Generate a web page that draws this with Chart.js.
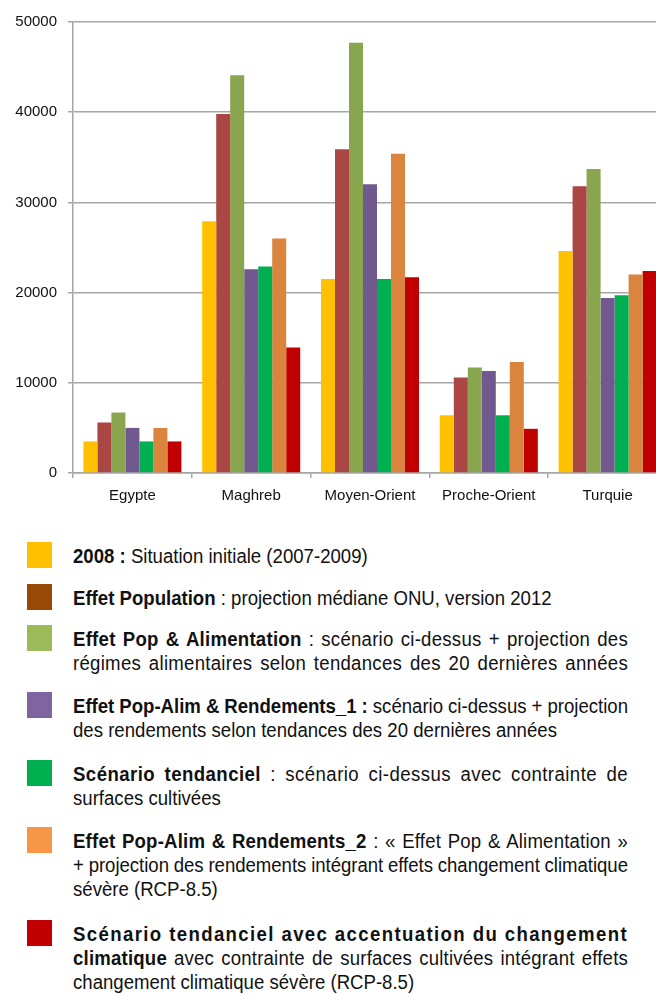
<!DOCTYPE html>
<html>
<head>
<meta charset="utf-8">
<script src="https://cdn.jsdelivr.net/npm/chart.js@4.4.0/dist/chart.umd.min.js"></script>
<style>
  html, body { margin: 0; padding: 0; background: #fff; overflow: hidden; }
  body { width: 656px; height: 994px; position: relative; font-family: "Liberation Sans", Arial, sans-serif; color: #111; }
  #chartBox { position: absolute; left: 0; top: 0; width: 667px; height: 520px; }
  .entry { position: absolute; left: 0; }
  .swatch { position: absolute; left: 27px; top: 0; width: 25px; height: 26px; }
  .txt { position: absolute; left: 73px; top: 2px; font-size: 20px; line-height: 24px; transform: scaleX(0.93); transform-origin: 0 0; }
  .line { display: block; height: 24px; white-space: nowrap; }
  .line span { display: inline-block; white-space: nowrap; }
</style>
</head>
<body>
<div id="chartBox"><canvas id="chart" width="667" height="520"></canvas></div>
<div id="legend"></div>
<script>
// categories and series
const regions = ['Egypte', 'Maghreb', 'Moyen-Orient', 'Proche-Orient', 'Turquie'];

const s2008        = [3500, 27900, 21500, 6400, 24600];
const sPopulation  = [5600, 39800, 35900, 10600, 31800];
const sPopAlim     = [6700, 44100, 47700, 11700, 33700];
const sRendements1 = [5000, 22600, 32000, 11300, 19400];
const sTendanciel  = [3500, 22900, 21500, 6400, 19700];
const sRendements2 = [5000, 26000, 35400, 12300, 22000];
const sClimat      = [3500, 13900, 21700, 4900, 22400];

const yTicks = [0, 10000, 20000, 30000, 40000, 50000];

const seriesNames = [
  '2008',
  'Effet Population',
  'Effet Pop & Alimentation',
  'Effet Pop-Alim & Rendements_1',
  'Scénario tendanciel',
  'Effet Pop-Alim & Rendements_2',
  'Scénario tendanciel avec accentuation du changement climatique'
];

// legend text, one string per printed line
const legendLines = [
  ['<b>2008 :</b> Situation initiale (2007-2009)'],
  ['<b>Effet Population</b> : projection médiane ONU, version 2012'],
  ['<b>Effet Pop &amp; Alimentation</b> : scénario ci-dessus + projection des',
   'régimes alimentaires selon tendances des 20 dernières années'],
  ['<b>Effet Pop-Alim &amp; Rendements_1 :</b> scénario ci-dessus + projection',
   'des rendements selon tendances des 20 dernières années'],
  ['<b>Scénario tendanciel</b> : scénario ci-dessus avec contrainte de',
   'surfaces cultivées'],
  ['<b>Effet Pop-Alim &amp; Rendements_2</b> : « Effet Pop &amp; Alimentation »',
   '+ projection des rendements intégrant effets changement climatique',
   'sévère (RCP-8.5)'],
  ['<b>Scénario tendanciel avec accentuation du changement</b>',
   '<b>climatique</b> avec contrainte de surfaces cultivées intégrant effets',
   'changement climatique sévère (RCP-8.5)']
];
// which lines are justified to the right margin
const justified = [
  [false],
  [false],
  [true, true],
  [true, false],
  [true, false],
  [true, true, false],
  [true, true, false]
];

const barColors    = ['#FFC000', '#AA4643', '#89A54E', '#71588F', '#00B050', '#DB843D', '#C00000'];
const legendColors = ['#FFC000', '#984807', '#9BBB59', '#8064A2', '#00B050', '#F79646', '#C00000'];
const legendTops   = [542, 584, 625, 692, 760, 827, 920];

const seriesData = [s2008, sPopulation, sPopAlim, sRendements1, sTendanciel, sRendements2, sClimat];

const gridColor = '#a6a6a6';
const tickFont = { family: "'Liberation Sans', Arial, sans-serif", size: 15 };

const config = {
  type: 'bar',
  data: {
    labels: regions,
    datasets: seriesData.map((d, i) => ({
      label: seriesNames[i],
      data: d,
      backgroundColor: barColors[i],
      borderWidth: 0,
      categoryPercentage: 0.825,
      barPercentage: 1.0
    }))
  },
  options: {
    responsive: false,
    animation: false,
    layout: { padding: { top: 22, right: 0, bottom: 0, left: 0 } },
    plugins: {
      legend: { display: false },
      tooltip: { enabled: false }
    },
    scales: {
      x: {
        grid: {
          drawOnChartArea: false,
          drawTicks: true,
          tickLength: 5,
          color: gridColor,
          lineWidth: 1.5
        },
        border: { color: gridColor, width: 1.5 },
        ticks: { font: tickFont, color: '#111', padding: 9 },
        afterFit: (scale) => { scale.height = 47; }
      },
      y: {
        min: 0,
        max: 50000,
        afterBuildTicks: (scale) => { scale.ticks = yTicks.map(v => ({ value: v })); },
        grid: {
          color: gridColor,
          lineWidth: 1.5,
          tickLength: 5
        },
        border: { color: gridColor, width: 1.5 },
        ticks: {
          font: tickFont,
          color: '#111',
          padding: 11,
          callback: (value) => String(value)
        },
        afterFit: (scale) => { scale.width = 73; }
      }
    }
  }
};

new Chart(document.getElementById('chart'), config);

// legend, drawn as HTML under the chart
const rightEdge = 628;
const squeeze = 0.93;
const legend = document.getElementById('legend');
legendLines.forEach((lines, i) => {
  const entry = document.createElement('div');
  entry.className = 'entry';
  entry.style.top = legendTops[i] + 'px';

  const sw = document.createElement('div');
  sw.className = 'swatch';
  sw.style.background = legendColors[i];
  entry.appendChild(sw);

  const txt = document.createElement('div');
  txt.className = 'txt';
  entry.appendChild(txt);
  legend.appendChild(entry);

  lines.forEach((html, j) => {
    const line = document.createElement('div');
    line.className = 'line';
    const span = document.createElement('span');
    span.innerHTML = html;
    line.appendChild(span);
    txt.appendChild(line);

    if (justified[i][j]) {
      // spread the missing width over letters and word gaps
      const target = rightEdge - 73;
      const natural = span.getBoundingClientRect().width;
      const extra = (target - natural) / squeeze;
      const text = span.textContent;
      const allBold = span.children.length === 1 && span.children[0].textContent === text;
      if (allBold) {
        span.style.letterSpacing = (extra / text.length) + 'px';
      } else {
        const spaces = (text.match(/ /g) || []).length;
        span.style.letterSpacing = (extra * 0.5 / text.length) + 'px';
        span.style.wordSpacing = (extra * 0.5 / spaces) + 'px';
      }
    }
  });
});
</script>
</body>
</html>
